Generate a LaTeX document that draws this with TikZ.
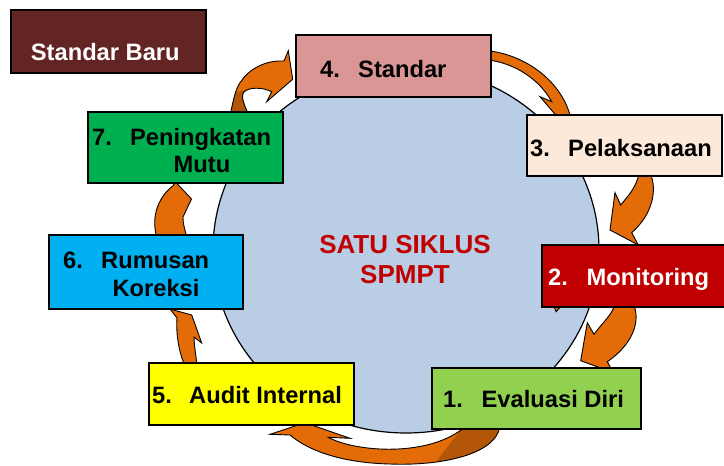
\documentclass[tikz,border=0pt]{standalone}
\usepackage{fontspec}
\setmainfont{Liberation Sans}
\usetikzlibrary{shapes.geometric}
\definecolor{cbaru}{HTML}{632523}
\definecolor{cstd}{HTML}{D99694}
\definecolor{cpel}{HTML}{FDE9D9}
\definecolor{cmon}{HTML}{C00000}
\definecolor{ceva}{HTML}{92D050}
\definecolor{caud}{HTML}{FFFF00}
\definecolor{crum}{HTML}{00B0F0}
\definecolor{cpen}{HTML}{00B050}
\definecolor{ccirc}{HTML}{B9CDE5}
\definecolor{ctitle}{HTML}{C00000}
\definecolor{corange}{HTML}{E36C09}
\definecolor{cdark}{HTML}{B35608}
\begin{document}
\begin{tikzpicture}[x=1pt,y=-1pt,
  box/.style={draw=black, line width=1.3pt, inner sep=0pt, minimum width=#1},
  lbl/.style={inner sep=0pt, font=\fontsize{23.7}{28}\selectfont\bfseries},
  ctr/.style={inner sep=0pt, text=ctitle, font=\fontsize{26}{30}\selectfont\bfseries},
  arrfill/.style={fill=corange},
  arrline/.style={draw=black, line width=0.9pt, line join=miter},
  darkfill/.style={fill=cdark}]
\useasboundingbox (0,0) rectangle (724,466);
\fill[white] (0,0) rectangle (724,466);

% central circle
\node[ellipse, draw=black, line width=1.2pt, fill=ccirc, minimum width=386pt, minimum height=366pt, inner sep=0pt] (circ) at (406,250) {};

% curved arrows
\def\arrA{(466,426) -- (500,426) .. controls (496,455) and (440,466) .. (390,464) .. controls (345,463) and (310,452) .. (290,435) -- (270,434.3) -- (305,422.7) -- (350,438.3) -- (328.3,437.3) .. controls (355,452) and (430,458) .. (466,426) -- cycle}
\fill[arrfill] \arrA;
\begin{scope}
\clip \arrA;
\fill[darkfill] (428,472) -- (452,441) -- (470,418) -- (520,418) -- (520,472) -- cycle;
\end{scope}
\draw[arrline] \arrA;

\def\arrB{(185,366) .. controls (178,350) and (176,332) .. (177,318) -- (170,309) -- (191.7,315) -- (201.7,343) -- (194,337) .. controls (194,345) and (196,355) .. (197,366) -- cycle}
\filldraw[arrfill, arrline] \arrB;

\def\arrC{(157,238) .. controls (150,215) and (160,195) .. (174,185) -- (169,175) -- (191.5,199) -- (183,217) .. controls (183,225) and (185,230) .. (187,238) -- cycle}
\filldraw[arrfill, arrline] \arrC;

\def\arrD{(231,116) -- (231,111.7) .. controls (234,95) and (237,86) .. (242,80) .. controls (252,66) and (270,60) .. (284,61) -- (288.3,50.7) -- (292.7,79.3) -- (266.7,101.7) -- (271.7,91.7) .. controls (262,87) and (249,87) .. (244,92) .. controls (240,97) and (245,106) .. (249,116) -- cycle}
\fill[arrfill] \arrD;
\begin{scope}
\clip \arrD;
\fill[darkfill] (220,96) -- (250,89) -- (262,120) -- (220,120) -- cycle;
\end{scope}
\draw[arrline] \arrD;

\def\arrE{(488,50.7) .. controls (525,55) and (560,80) .. (570,115) -- (581.7,118) -- (560,120) -- (540,96.7) -- (551.7,101.7) .. controls (540,80) and (515,63) .. (488,60) -- cycle}
\filldraw[arrfill, arrline] \arrE;

\def\arrF{(639.3,173) -- (650,173) .. controls (658,190) and (652,215) .. (631.7,232.7) -- (638.3,245) -- (610,230) -- (615,192.7) -- (620.7,205) .. controls (628,196) and (636,188) .. (639.3,173) -- cycle}
\filldraw[arrfill, arrline] \arrF;

\def\arrG{(615,304) -- (633.3,304) .. controls (640,318) and (636,342) .. (607.3,361.7) -- (613.3,372.7) -- (580.7,360.7) -- (587.3,322.7) -- (594,334.3) .. controls (603,322) and (612,315) .. (615,304) -- cycle}
\filldraw[arrfill, arrline] \arrG;

\filldraw[arrfill, arrline] (553.3,304) -- (563.3,304) -- (556,311.7) -- cycle;

% boxes
\node[box=195pt, minimum height=63pt, fill=cbaru] (bbaru) at (108.5,41.5) {};
\node[box=195pt, minimum height=62pt, fill=cstd] (b4) at (393.5,66) {};
\node[box=195pt, minimum height=61pt, fill=cpel] (b3) at (624.5,145.5) {};
\node[box=195pt, minimum height=62pt, fill=cmon] (b2) at (639.5,276) {};
\node[box=209pt, minimum height=61pt, fill=ceva] (b1) at (536.5,398.5) {};
\node[box=205pt, minimum height=62pt, fill=caud] (b5) at (251.5,394) {};
\node[box=194pt, minimum height=74pt, fill=crum] (b6) at (146,272) {};
\node[box=195pt, minimum height=71pt, fill=cpen] (b7) at (185.5,147.5) {};

% texts
\node[lbl, text=white, anchor=base west] (tbaru) at (30.7,60) {Standar Baru};
\node[lbl, anchor=base west] (t4) at (320,77) {\makebox[38pt][l]{4.}Standar};
\node[lbl, anchor=base west] (t3) at (530,156) {\makebox[38pt][l]{3.}Pelaksanaan};
\node[lbl, text=white, anchor=base west] (t2) at (548,285) {\makebox[38.5pt][l]{2.}Monitoring};
\node[lbl, anchor=base west] (t1) at (443,407) {\makebox[38.5pt][l]{1.}Evaluasi Diri};
\node[lbl, anchor=base west] (t5) at (152,403) {\makebox[37pt][l]{5.}Audit Internal};
\node[lbl, anchor=base west] (t6a) at (63,268) {\makebox[38pt][l]{6.}Rumusan};
\node[lbl, anchor=base] (t6b) at (156,296) {Koreksi};
\node[lbl, anchor=base west] (t7a) at (92,145) {\makebox[38pt][l]{7.}Peningkatan};
\node[lbl, anchor=base] (t7b) at (202,172) {Mutu};
\node[ctr, anchor=base] (tc1) at (405,253) {SATU SIKLUS};
\node[ctr, anchor=base] (tc2) at (405,283) {SPMPT};
\end{tikzpicture}
\end{document}
